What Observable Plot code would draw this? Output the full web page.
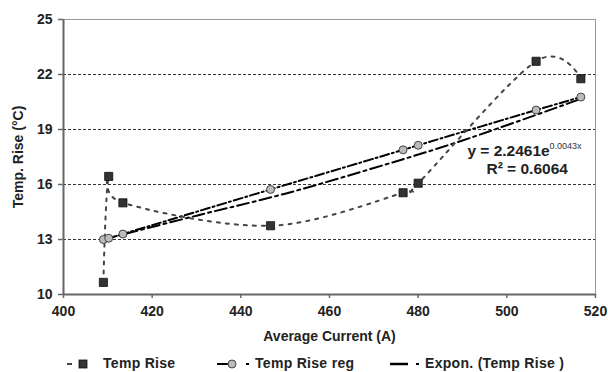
<!DOCTYPE html>
<html><head><meta charset="utf-8">
<script src="https://cdn.jsdelivr.net/npm/d3@7"></script>
<script src="https://cdn.jsdelivr.net/npm/@observablehq/plot@0.6"></script>
<style>
body{margin:0;background:#fff;font-family:"Liberation Sans",Arial,sans-serif;}
#wrap{position:relative;width:608px;height:372px;overflow:hidden;}
#legend{position:absolute;left:0;top:355px;width:608px;height:17px;font-weight:bold;font-size:14px;color:#222;letter-spacing:0.3px;}
#legend svg{position:absolute;top:0;}
#legend span{position:absolute;top:1px;line-height:15px;white-space:nowrap;}
</style></head><body><div id="wrap"><div id="chart"></div><div id="legend"></div></div>
<script>
// Data
const current = [409.0, 410.2, 413.4, 446.7, 476.6, 480.0, 506.6, 516.7];
const tempRise = [10.66, 16.44, 15.0, 13.75, 15.55, 16.07, 22.72, 21.77];
const tempRiseReg = [13.0, 13.07, 13.3, 15.73, 17.89, 18.14, 20.06, 20.77];
const trendX = [409, 430, 450, 470, 490, 517];
const trendY = [13.0, 14.3, 15.5, 16.9, 18.4, 20.7];
const xTicks = [400, 420, 440, 460, 480, 500, 520];
const yTicks = [10, 13, 16, 19, 22, 25];
const gridY = [13, 16, 19, 22];
const eqMain = "y = 2.2461e";
const eqExp = "0.0043x";
const eqR2 = "R² = 0.6064";
const seriesNames = ["Temp Rise", "Temp Rise reg", "Expon. (Temp Rise )"];
const xLabel = "Average Current (A)";
const yLabel = "Temp. Rise (°C)";

const rise = current.map((x, i) => ({x, y: tempRise[i]}));
const reg = current.map((x, i) => ({x, y: tempRiseReg[i]}));
const trend = trendX.map((x, i) => ({x, y: trendY[i]}));
const font = '"Liberation Sans", Arial, sans-serif';

const chart = Plot.plot({
  width: 608, height: 350,
  marginTop: 19, marginBottom: 56, marginLeft: 63, marginRight: 13,
  style: {fontFamily: font, fontSize: "14px", fontWeight: "bold", color: "#222", background: "#fff"},
  x: {domain: [400, 520]},
  y: {domain: [10, 25]},
  marks: [
    Plot.ruleY(gridY, {stroke: "#333", strokeDasharray: "3,2", strokeWidth: 1}),
    Plot.frame({stroke: "#999", strokeWidth: 1}),
    Plot.axisX({ticks: xTicks, tickSize: 4, tickPadding: 8, stroke: "#666", strokeWidth: 1.5, tickFormat: d => String(d),
      label: xLabel, labelAnchor: "center", labelArrow: "none", labelOffset: 46}),
    Plot.axisY({ticks: yTicks, tickSize: 5, tickPadding: 6, stroke: "#666", strokeWidth: 1.5, tickFormat: d => String(d),
      label: yLabel, labelAnchor: "center", labelArrow: "none", labelOffset: 50}),
    Plot.ruleX([400], {stroke: "#666", strokeWidth: 2}),
    Plot.ruleY([10], {stroke: "#666", strokeWidth: 2}),
    Plot.line(trend, {x: "x", y: "y", stroke: "#000", strokeWidth: 2, strokeDasharray: "12,4,3,4", curve: "catmull-rom"}),
    Plot.line(reg, {x: "x", y: "y", stroke: "#000", strokeWidth: 2, strokeDasharray: "9,3,2,3", curve: "catmull-rom"}),
    Plot.line(rise, {x: "x", y: "y", stroke: "#444", strokeWidth: 2, strokeDasharray: "3,6", curve: "cardinal"}),
    Plot.dot(rise, {x: "x", y: "y", symbol: "square", r: 4.6, fill: "#333", stroke: "#111", strokeWidth: 0.8}),
    Plot.dot(reg, {x: "x", y: "y", symbol: "circle", r: 4, fill: "#bbb", stroke: "#444", strokeWidth: 1}),
    Plot.text([eqMain], {x: () => 491.1, y: () => 17.85, text: d => d, textAnchor: "start", fontSize: 15.5, fontWeight: "bold", fill: "#222"}),
    Plot.text([eqExp], {x: () => 509.6, y: () => 18.1, text: d => d, textAnchor: "start", fontSize: 9, fontWeight: "normal", fill: "#333"}),
    Plot.text([eqR2], {x: () => 495.4, y: () => 16.87, text: d => d, textAnchor: "start", fontSize: 15.5, fontWeight: "bold", fill: "#222"})
  ]
});
document.getElementById("chart").appendChild(chart);

// Legend
const lg = document.getElementById("legend");
function sw(left, width, inner) {
  const s = `<svg style="left:${left}px" width="${width}" height="17" viewBox="0 0 ${width} 17">${inner}</svg>`;
  lg.insertAdjacentHTML("beforeend", s);
}
function label(left, t) {
  const sp = document.createElement("span");
  sp.style.left = left + "px";
  sp.textContent = t;
  lg.appendChild(sp);
}
sw(64, 30, `<line x1="3" x2="8" y1="9" y2="9" stroke="#444" stroke-width="2"/><rect x="15" y="5" width="8" height="8" fill="#333" stroke="#111" stroke-width="0.8"/>`);
label(103, seriesNames[0]);
sw(215, 38, `<line x1="2" x2="20" y1="9" y2="9" stroke="#000" stroke-width="2"/><circle cx="17" cy="9" r="4" fill="#bbb" stroke="#444"/><line x1="31" x2="34" y1="9" y2="9" stroke="#000" stroke-width="2"/>`);
label(255, seriesNames[1]);
sw(388, 34, `<line x1="2" x2="20" y1="9" y2="9" stroke="#000" stroke-width="2.5"/><line x1="28" x2="31" y1="9" y2="9" stroke="#000" stroke-width="2"/>`);
label(425, seriesNames[2]);
</script></body></html>
